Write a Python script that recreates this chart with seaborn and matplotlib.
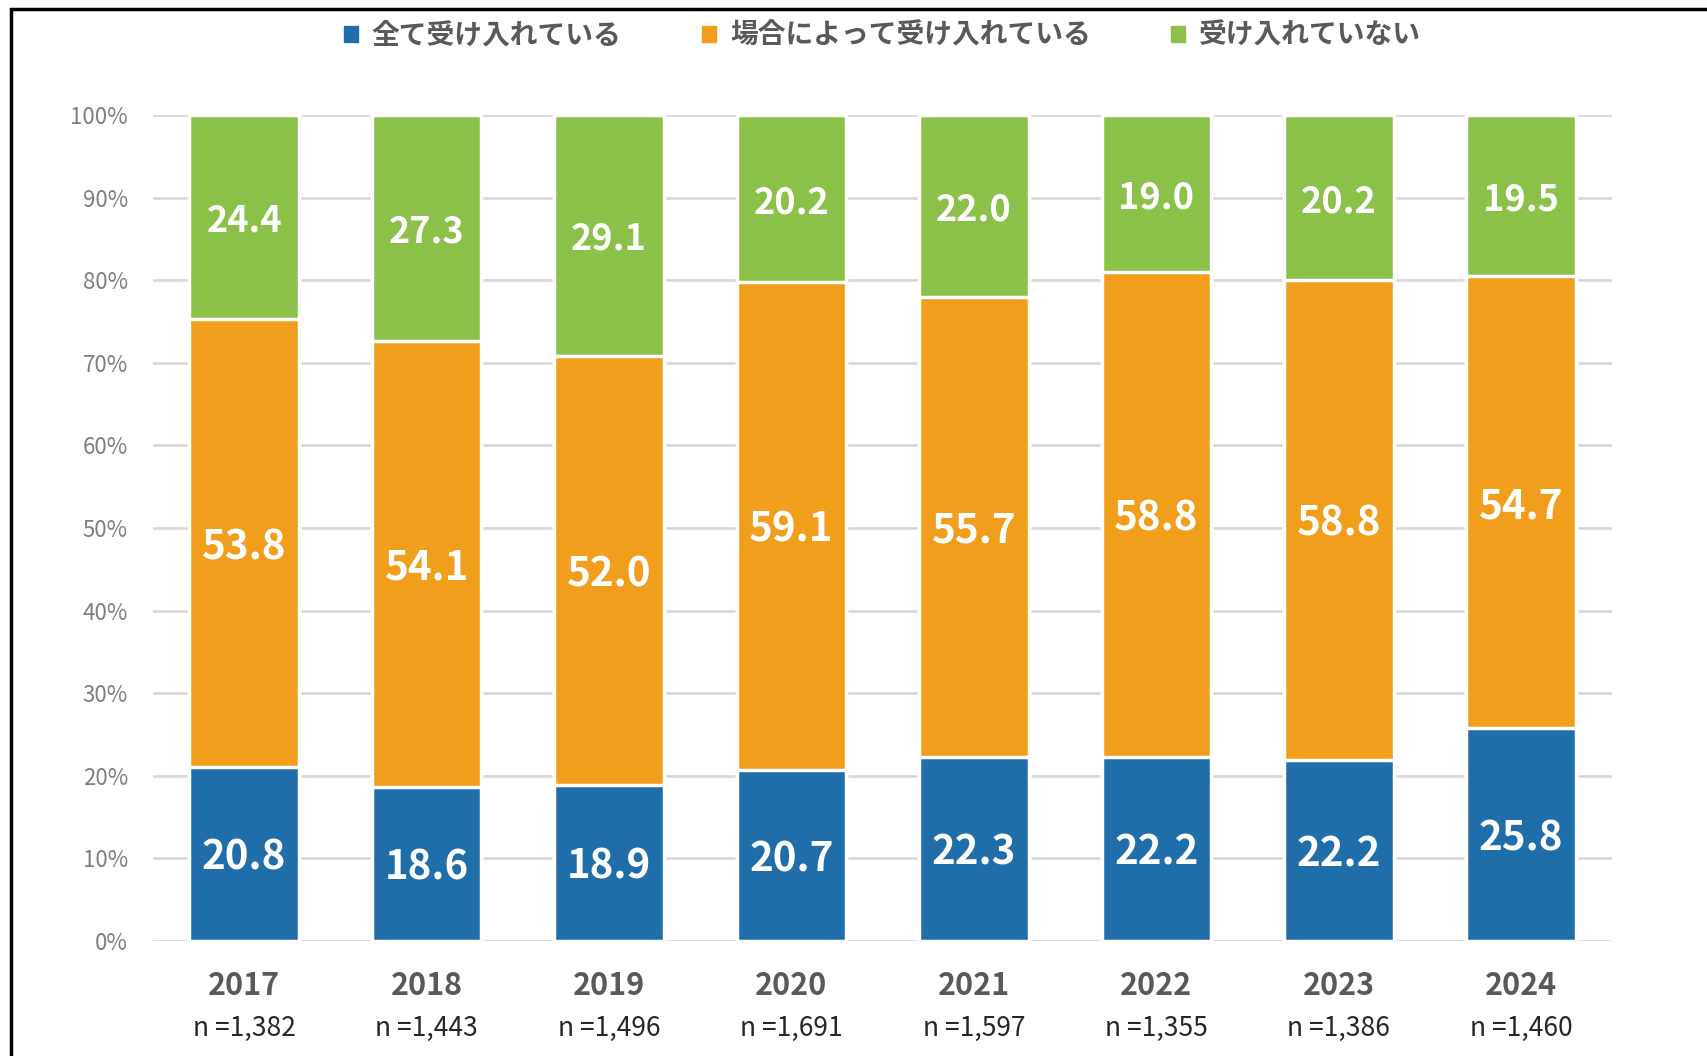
import matplotlib
matplotlib.use("Agg")
import matplotlib.pyplot as plt
import matplotlib.patches as mpatches
import pandas as pd
import seaborn as sns

years = ["2017", "2018", "2019", "2020", "2021", "2022", "2023", "2024"]
n_labels = ["n =1,382", "n =1,443", "n =1,496", "n =1,691",
            "n =1,597", "n =1,355", "n =1,386", "n =1,460"]
all_accept = [20.8, 18.6, 18.9, 20.7, 22.3, 22.2, 22.2, 25.8]
some_accept = [53.8, 54.1, 52.0, 59.1, 55.7, 58.8, 58.8, 54.7]
no_accept = [24.4, 27.3, 29.1, 20.2, 22.0, 19.0, 20.2, 19.5]
series_names = ["全て受け入れている", "場合によって受け入れている", "受け入れていない"]
colors = ["#1F6EA9", "#F09E1C", "#8BC149"]

sns.set_style("white")
plt.rcParams['font.family'] = ['Noto Sans CJK JP', 'DejaVu Sans']

df = pd.DataFrame({"year": years, "a": all_accept, "b": some_accept, "c": no_accept})
tot = df["a"] + df["b"] + df["c"]
# 100%積み上げ (Excel同様に合計で正規化)
df["p1"] = df["a"] / tot * 100
df["p2"] = (df["a"] + df["b"]) / tot * 100
df["p3"] = 100.0

fig = plt.figure(figsize=(17.07, 10.56), dpi=100)
ax = fig.add_axes([0.0896, 0.1093, 0.855, 0.7814])

# 重ね描きで積み上げ
for col, c in zip(["p3", "p2", "p1"], colors[::-1]):
    sns.barplot(data=df, x="year", y=col, color=c, width=0.6,
                edgecolor="white", linewidth=2.5, saturation=1, ax=ax)

ax.set_ylim(0, 100)
ax.set_xlim(-0.5, 7.5)
ax.set_yticks(range(0, 101, 10))
ax.set_yticklabels([f"{v}%" for v in range(0, 101, 10)], color="#7F7F7F", fontsize=16)
ax.set_axisbelow(True)
ax.yaxis.grid(True, color="#D9D9D9", linewidth=2)
ax.tick_params(axis="y", length=0, pad=18)
ax.set_xticks([])
ax.set_xlabel("")
ax.set_ylabel("")
for s in ["top", "right", "left", "bottom"]:
    ax.spines[s].set_visible(False)

# データラベル
for i in range(len(years)):
    p1, p2 = df["p1"][i], df["p2"][i]
    ax.text(i, p1 / 2, f"{all_accept[i]:.1f}", ha="center", va="center_baseline",
            color="white", fontsize=29, fontweight="bold")
    ax.text(i, (p1 + p2) / 2, f"{some_accept[i]:.1f}", ha="center", va="center_baseline",
            color="white", fontsize=29, fontweight="bold")
    ax.text(i, (p2 + 100) / 2, f"{no_accept[i]:.1f}", ha="center", va="center_baseline",
            color="white", fontsize=26, fontweight="bold")
    ax.text(i, -0.055, years[i], transform=ax.get_xaxis_transform(), ha="center",
            va="center", color="#595959", fontsize=22, fontweight="bold")
    ax.text(i, -0.107, n_labels[i], transform=ax.get_xaxis_transform(), ha="center",
            va="center", color="#262626", fontsize=19)

handles = [mpatches.Patch(color=c, label=l) for c, l in zip(colors, series_names)]
fig.legend(handles=handles, loc="center", bbox_to_anchor=(0.517, 0.966), ncol=3,
           frameon=False, handlelength=0.5, handleheight=0.5, handletextpad=0.5,
           columnspacing=2.9, prop={"size": 20, "weight": "bold"}, labelcolor="#595959")

# 外枠
fig.patches.append(mpatches.Rectangle((11 / 1707, -0.1), 1.2, 1.1 - 9 / 1056,
                                      transform=fig.transFigure, fill=False,
                                      edgecolor="black", linewidth=2.5))

fig.savefig("out.png", dpi=100)
